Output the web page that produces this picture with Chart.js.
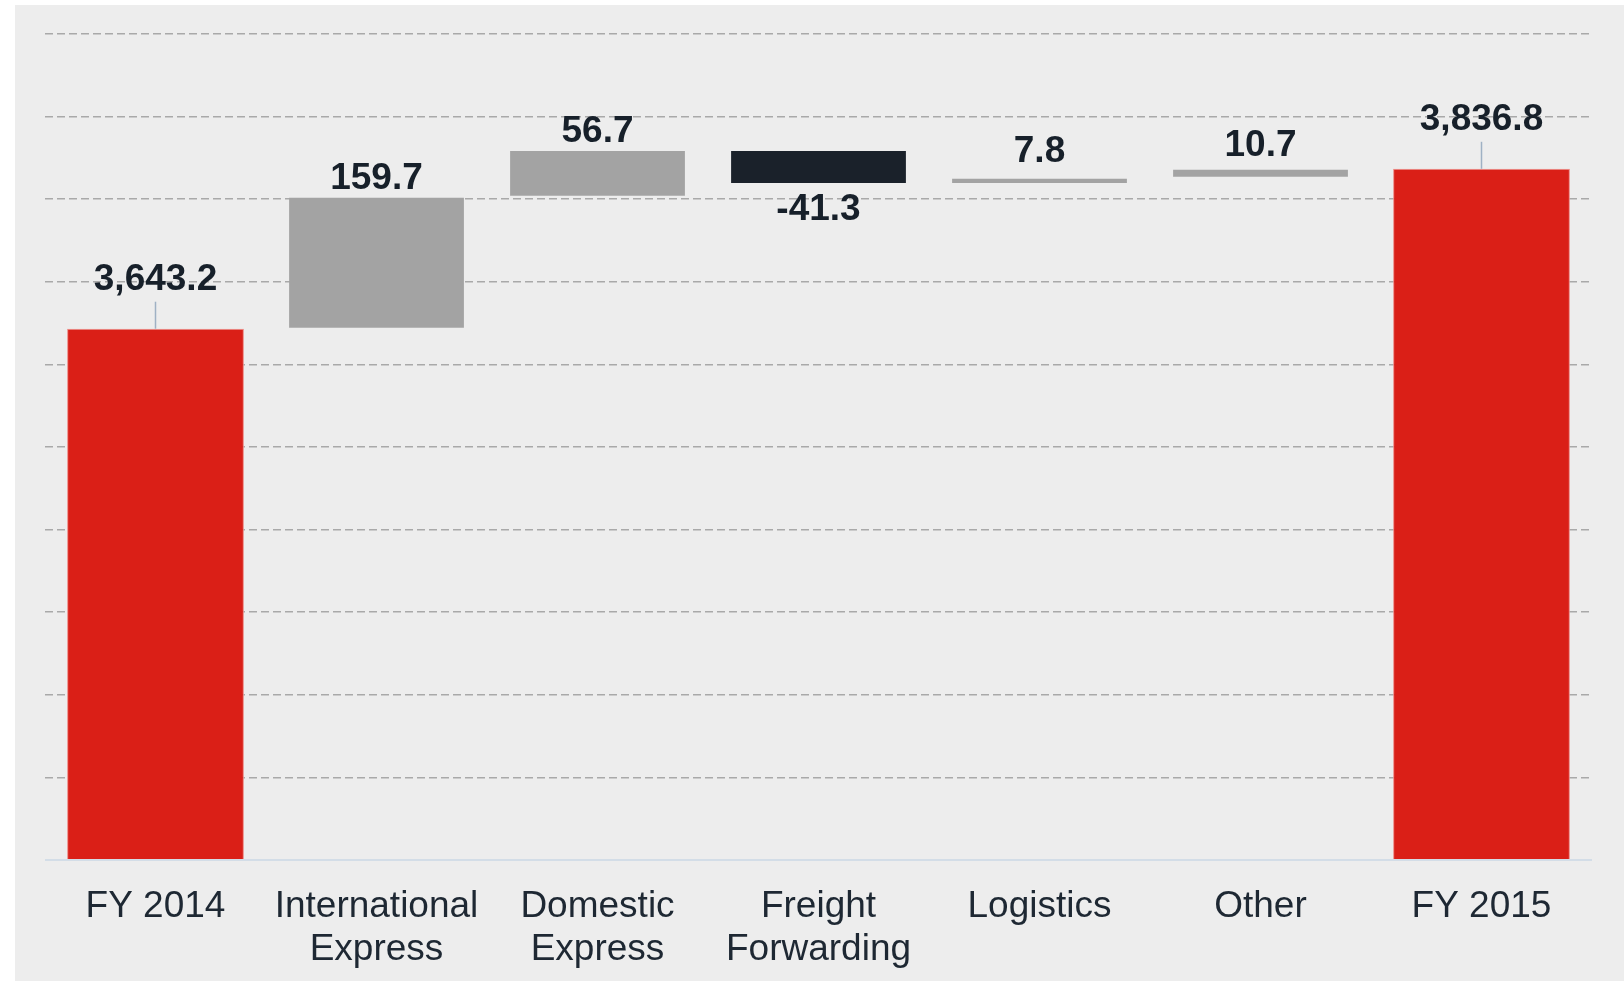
<!DOCTYPE html>
<html>
<head>
<meta charset="utf-8">
<script src="https://cdn.jsdelivr.net/npm/chart.js@4/dist/chart.umd.min.js"></script>
<style>
  html, body { margin: 0; padding: 0; background: #ffffff; overflow: hidden; }
  #wrap { position: relative; width: 1624px; height: 981px; overflow: hidden; }
  #panel { position: absolute; left: 15px; top: 5px; width: 1609px; height: 976px; background: #ededed; }
  #c { position: absolute; left: 0; top: 0; }
</style>
</head>
<body>
<div id="wrap">
  <div id="panel"></div>
  <canvas id="c" width="1624" height="981"></canvas>
</div>
<script>
// ---- data ----
const categories = [
  ['FY 2014'],
  ['International', 'Express'],
  ['Domestic', 'Express'],
  ['Freight', 'Forwarding'],
  ['Logistics'],
  ['Other'],
  ['FY 2015']
];
const startTotal = 3643.2;
const deltas = [159.7, 56.7, -41.3, 7.8, 10.7];
const endTotal = 3836.8;
const axisMin = 3000;
const axisMax = 4000;
const axisStep = 100;

// ---- build waterfall ranges ----
const ranges = [];
const labelsText = [];
const kinds = [];
ranges.push([axisMin, startTotal]);
labelsText.push(startTotal.toLocaleString('en-US', {minimumFractionDigits: 1, maximumFractionDigits: 1}));
kinds.push('total');
let running = startTotal;
deltas.forEach(d => {
  ranges.push([running, running + d]);
  labelsText.push(d.toFixed(1));
  kinds.push(d >= 0 ? 'up' : 'down');
  running += d;
});
ranges.push([axisMin, endTotal]);
labelsText.push(endTotal.toLocaleString('en-US', {minimumFractionDigits: 1, maximumFractionDigits: 1}));
kinds.push('total');

const colorFor = k => k === 'total' ? '#da1f17' : (k === 'up' ? '#a3a3a3' : '#1a212a');
const borderFor = k => k === 'total' ? '#ee8a86' : 'rgba(0,0,0,0)';

const valueLabels = {
  id: 'valueLabels',
  afterDatasetsDraw(chart) {
    const ctx = chart.ctx;
    const meta = chart.getDatasetMeta(0);
    const area = chart.chartArea;
    const xScale = chart.scales.x;
    ctx.save();
    // baseline
    ctx.strokeStyle = '#d3dde7';
    ctx.lineWidth = 2;
    ctx.beginPath();
    ctx.moveTo(area.left, area.bottom);
    ctx.lineTo(area.right, area.bottom);
    ctx.stroke();

    // category labels
    ctx.font = '37px "Liberation Sans", Arial, sans-serif';
    ctx.fillStyle = '#1e2833';
    ctx.textAlign = 'center';
    ctx.textBaseline = 'alphabetic';
    categories.forEach((lines, i) => {
      const x = xScale.getPixelForValue(i);
      lines.forEach((t, j) => ctx.fillText(t, x, area.bottom + 57 + j * 42.6));
    });

    // value labels
    ctx.font = 'bold 37px "Liberation Sans", Arial, sans-serif';
    ctx.fillStyle = '#17202a';
    meta.data.forEach((el, i) => {
      const top = Math.min(el.y, el.base);
      const bottom = Math.max(el.y, el.base);
      const h = bottom - top;
      const k = kinds[i];
      if (k === 'total') {
        ctx.strokeStyle = '#9fb1c4';
        ctx.lineWidth = 1.5;
        ctx.beginPath();
        ctx.moveTo(el.x, top - 27);
        ctx.lineTo(el.x, top);
        ctx.stroke();
        ctx.fillText(labelsText[i], el.x, top - 39);
      } else if (k === 'up') {
        const gap = Math.max(8, 22 - h);
        ctx.fillText(labelsText[i], el.x, top - gap);
      } else {
        ctx.fillText(labelsText[i], el.x, bottom + 36);
      }
    });
    ctx.restore();
  }
};

new Chart(document.getElementById('c'), {
  type: 'bar',
  data: {
    labels: categories,
    datasets: [{
      data: ranges,
      backgroundColor: kinds.map(colorFor),
      borderColor: kinds.map(borderFor),
      borderWidth: 1,
      borderSkipped: false,
      barPercentage: 0.8,
      categoryPercentage: 1.0
    }]
  },
  options: {
    responsive: false,
    animation: false,
    layout: { padding: { left: 45, right: 32, top: 34, bottom: 121 } },
    plugins: {
      legend: { display: false },
      tooltip: { enabled: false }
    },
    scales: {
      x: {
        grid: { display: false, drawTicks: false },
        border: { display: false },
        ticks: { display: false }
      },
      y: {
        min: axisMin,
        max: axisMax,
        ticks: { display: false, stepSize: axisStep },
        border: { display: false, dash: [8, 4] },
        grid: {
          drawTicks: false,
          lineWidth: 1.5,
          color: ctx => (ctx.tick && ctx.tick.value === axisMin) ? 'rgba(0,0,0,0)' : '#a9a9a9'
        }
      }
    }
  },
  plugins: [valueLabels]
});
</script>
</body>
</html>
